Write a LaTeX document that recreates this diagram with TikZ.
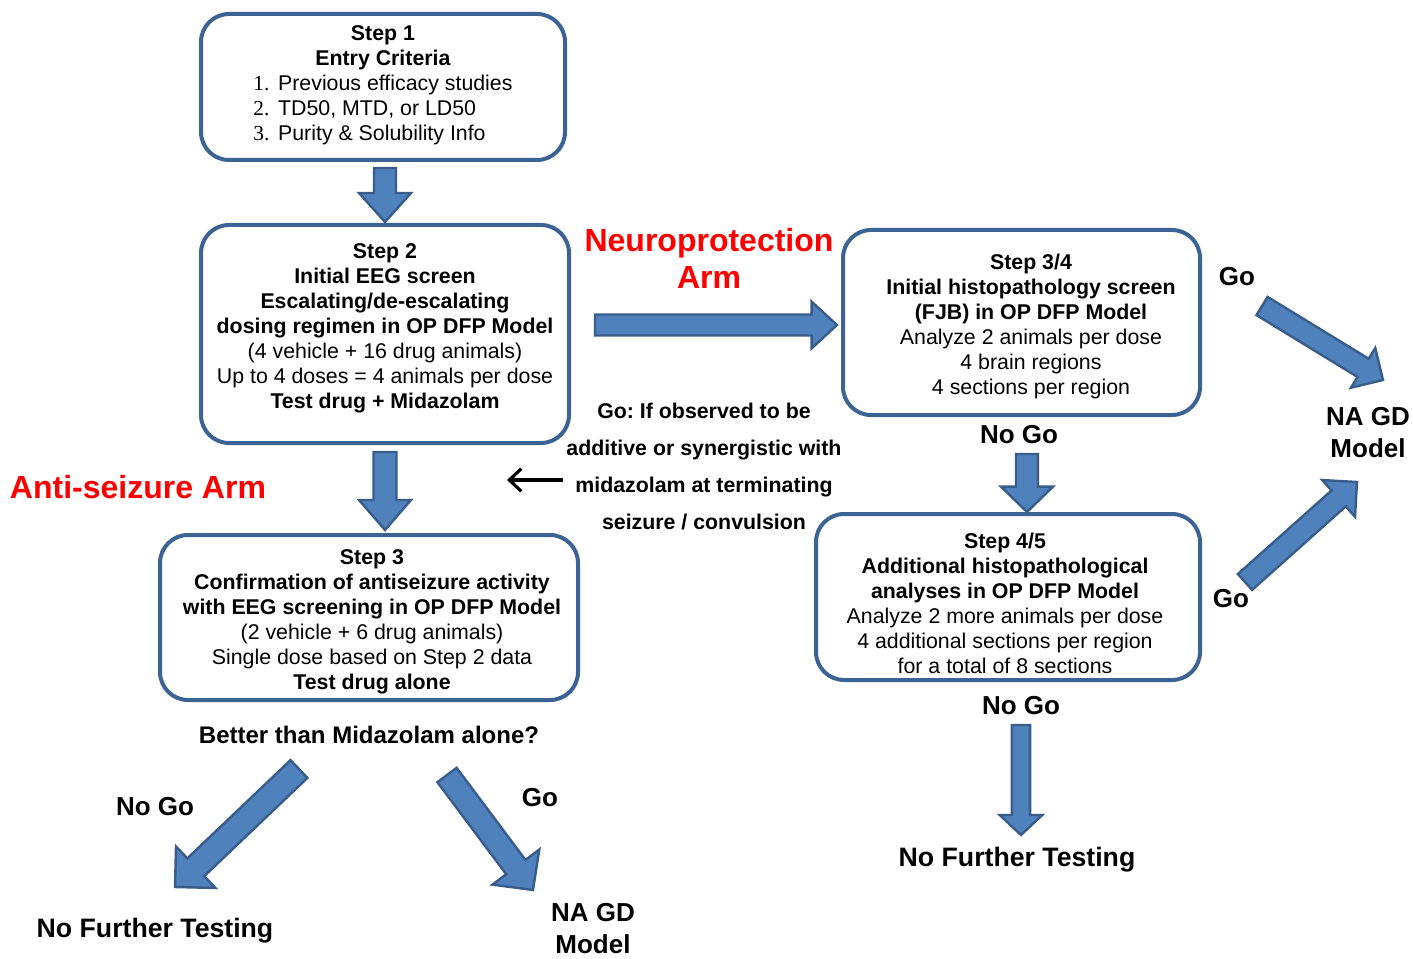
\documentclass[tikz,border=0pt]{standalone}
\usepackage{fontspec}
\setmainfont{Liberation Sans}
\newfontfamily\numfont{Liberation Serif}
\usepackage{xcolor}
\definecolor{boxblue}{HTML}{3B6394}
\definecolor{arrowfill}{HTML}{4F81BD}
\definecolor{arrowline}{HTML}{385D8A}
\definecolor{armred}{HTML}{FF0000}
\usetikzlibrary{calc,arrows.meta,positioning}
\frenchspacing

% block arrow: tail, tip, shaft half width, head half width, head length
\newcommand{\blockarrow}[5]{%
  \draw[blockarrow] ($(#1)!#3!90:(#2)$) -- ($(#2)!#5!(#1)!#3!90:(#2)$)
    -- ($(#2)!#5!(#1)!#4!90:(#2)$) -- (#2)
    -- ($(#2)!#5!(#1)!#4!-90:(#2)$) -- ($(#2)!#5!(#1)!#3!-90:(#2)$)
    -- ($(#1)!#3!-90:(#2)$) -- cycle;}

\tikzset{
  stepbox/.style={draw=boxblue, line width=3pt, rounded corners=21pt, fill=white, inner sep=0pt},
  steptext/.style={align=center, inner sep=0pt, font=\fontsize{16}{18.75}\selectfont},
  golabel/.style={align=center, inner sep=0pt, font=\bfseries\fontsize{19.5}{24}\selectfont},
  armlabel/.style={align=center, inner sep=0pt, text=armred, font=\bfseries\fontsize{24}{27.75}\selectfont},
  blockarrow/.style={fill=arrowfill, draw=arrowline, line width=1.8pt, line join=miter}
}

\begin{document}
\begin{tikzpicture}[x=0.75pt, y=-0.75pt]
    \useasboundingbox (0,0) rectangle (1413,959);

    % Boxes
    \node[stepbox, minimum width=273pt, minimum height=109.5pt] (s1) at (383,87) {};
    \node[stepbox, minimum width=276pt, minimum height=163.5pt] (s2) at (385,334) {};
    \node[stepbox, minimum width=313.5pt, minimum height=123.75pt] (s3) at (369,617.5) {};
    \node[stepbox, minimum width=267.75pt, minimum height=138.75pt] (s34) at (1021.5,322.5) {};
    \node[stepbox, minimum width=288pt, minimum height=124.5pt] (s45) at (1008,597) {};

    % Box texts
    \node[steptext] (t1) at (383,87) {\textbf{Step 1}\\ \textbf{Entry Criteria}\\
        \begin{tabular}[t]{@{}r@{\hspace{6.5pt}}l@{}}
        {\numfont 1.} & Previous efficacy studies\\
        {\numfont 2.} & TD50, MTD, or LD50\\
        {\numfont 3.} & Purity \& Solubility Info
        \end{tabular}};
    \node[steptext] (t2) at (385,328.5) {\textbf{Step 2}\\ \textbf{Initial EEG screen}\\
        \textbf{Escalating/de-escalating}\\ \textbf{dosing regimen in OP DFP Model}\\
        (4 vehicle + 16 drug animals)\\ Up to 4 doses = 4 animals per dose\\
        \textbf{Test drug + Midazolam}};
    \node[steptext] (t3) at (372,622) {\textbf{Step 3}\\ \textbf{Confirmation of antiseizure activity}\\
        \textbf{with EEG screening in OP DFP Model}\\ (2 vehicle + 6 drug animals)\\
        Single dose based on Step 2 data\\ \textbf{Test drug alone}};
    \node[steptext] (t34) at (1031,326.5) {\textbf{Step 3/4}\\ \textbf{Initial histopathology screen}\\
        \textbf{(FJB) in OP DFP Model}\\ Analyze 2 animals per dose\\
        4 brain regions\\ 4 sections per region};
    \node[steptext] (t45) at (1005,603) {\textbf{Step 4/5}\\ \textbf{Additional histopathological}\\
        \textbf{analyses in OP DFP Model}\\ Analyze 2 more animals per dose\\
        4 additional sections per region\\ for a total of 8 sections};

    % Arm labels
    \node[armlabel] (neuro) at (709,258.5) {Neuroprotection\\Arm};
    \node[armlabel] (anti) at (138,487) {Anti-seizure Arm};

    % Decision labels
    \node[align=center, inner sep=0pt, font=\bfseries\fontsize{16}{27.75}\selectfont] (cond) at (704,466)
        {Go: If observed to be\\ additive or synergistic with\\ midazolam at terminating\\ seizure / convulsion};
    \node[golabel] (better) at (369,735) {\fontsize{18}{24}\selectfont Better than Midazolam alone?};
    \node[golabel] (nogoA) at (1019,435) {No Go};
    \node[golabel] (goA) at (1237,277) {Go};
    \node[golabel] (nagdA) at (1368,433) {NA GD\\Model};
    \node[golabel] (goB) at (1231,599) {Go};
    \node[golabel] (nogoB) at (1021,706) {No Go};
    \node[golabel, font=\bfseries\fontsize{20}{24}\selectfont] (nftA) at (1017,860) {No Further Testing};
    \node[golabel] (nogoC) at (155,807) {No Go};
    \node[golabel] (goC) at (540,798) {Go};
    \node[golabel, font=\bfseries\fontsize{20}{24}\selectfont] (nftB) at (155,931) {No Further Testing};
    \node[golabel] (nagdB) at (593,929) {NA GD\\Model};

    % Block arrow ends
    \coordinate (a1s) at (385,168);   \coordinate (a1e) at (385,222);
    \coordinate (a2s) at (385,452);   \coordinate (a2e) at (385,530);
    \coordinate (a3s) at (595,325);   \coordinate (a3e) at (837,325);
    \coordinate (a4s) at (1027,454);  \coordinate (a4e) at (1027,512);
    \coordinate (a5s) at (1021,725);  \coordinate (a5e) at (1021,835);
    \coordinate (a6s) at (1262,306);  \coordinate (a6e) at (1383,380);
    \coordinate (a7s) at (1245,582);  \coordinate (a7e) at (1357,482);
    \coordinate (a8s) at (299,769);   \coordinate (a8e) at (175,887);
    \coordinate (a9s) at (447,775);   \coordinate (a9e) at (533,890);

    % Block arrows
    \blockarrow{a1s}{a1e}{8.25pt}{19.5pt}{21.75pt}
    \blockarrow{a2s}{a2e}{8.6pt}{19.5pt}{22.5pt}
    \blockarrow{a3s}{a3e}{7.9pt}{17.5pt}{19pt}
    \blockarrow{a4s}{a4e}{8.25pt}{19.5pt}{19pt}
    \blockarrow{a5s}{a5e}{6.8pt}{16pt}{15pt}
    \blockarrow{a6s}{a6e}{8pt}{17.5pt}{17.5pt}
    \blockarrow{a7s}{a7e}{8pt}{18.5pt}{18.5pt}
    \blockarrow{a8s}{a8e}{9.2pt}{21.5pt}{21.5pt}
    \blockarrow{a9s}{a9e}{9pt}{22pt}{21.5pt}

    % Back arrow
    \coordinate (backS) at (563,480);
    \coordinate (backE) at (507,480);
    \draw[line width=2.4pt, -{Straight Barb[length=9pt, width=17pt]}] (backS) -- (backE);
\end{tikzpicture}
\end{document}
